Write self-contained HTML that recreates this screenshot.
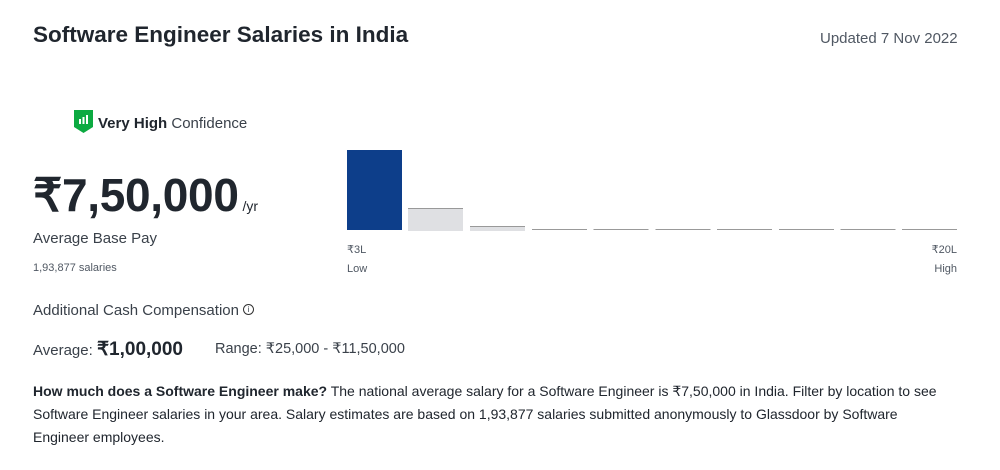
<!DOCTYPE html>
<html><head><meta charset="utf-8"><style>
body{margin:0;width:1000px;height:470px;background:#fff;font-family:"Liberation Sans",sans-serif;color:#20262e;position:relative;overflow:hidden}
.a{position:absolute;white-space:nowrap}
.bar{position:absolute;width:55px}
</style></head><body>
<div class="a" style="left:33px;top:22px;font-size:22.5px;font-weight:bold">Software Engineer Salaries in India</div>
<div class="a" style="left:820px;top:30px;font-size:15px;color:#505863">Updated 7 Nov 2022</div>
<svg class="a" style="left:74px;top:110px" width="19" height="23" viewBox="0 0 19 23"><path d="M0 0H19V17L9.5 23L0 17Z" fill="#0caa41"/><rect x="5" y="9" width="2" height="5" fill="#fff"/><rect x="8.5" y="7" width="2" height="7" fill="#fff"/><rect x="12" y="5" width="2" height="9" fill="#fff"/></svg>
<div class="a" style="left:98px;top:115px;font-size:15px"><b>Very High</b> <span style="color:#3a414a">Confidence</span></div>
<div class="a" style="left:33px;top:168px;font-size:46px;font-weight:bold;letter-spacing:-0.3px">₹7,50,000<span style="font-size:14px;font-weight:normal;letter-spacing:0"> /yr</span></div>
<div class="a" style="left:33px;top:230px;font-size:15px;color:#3a414a">Average Base Pay</div>
<div class="a" style="left:33px;top:262px;font-size:11px;color:#505863">1,93,877 salaries</div>
<div class="bar" style="left:347px;top:150px;height:80px;background:#0d3e8a"></div>
<div class="bar" style="left:408px;top:208px;height:22px;background:#dfe0e3;border-top:1px solid #999"></div>
<div class="bar" style="left:470px;top:226px;height:4px;background:#dfe0e3;border-top:1px solid #999"></div>
<div style="position:absolute;top:229px;left:532px;width:425px;height:1px;background:repeating-linear-gradient(90deg,#999 0 55px,transparent 55px 61.7px)"></div>
<div class="a" style="left:347px;top:243px;font-size:11px;color:#505863">₹3L</div>
<div class="a" style="left:347px;top:263px;font-size:11px;color:#505863">Low</div>
<div class="a" style="right:43px;top:243px;font-size:11px;color:#505863">₹20L</div>
<div class="a" style="right:43px;top:263px;font-size:11px;color:#505863">High</div>
<div class="a" style="left:33px;top:302px;font-size:15px;color:#3a414a">Additional Cash Compensation <span style="display:inline-block;width:9px;height:9px;border:1px solid #333;border-radius:50%;font-size:8px;text-align:center;line-height:9px;vertical-align:3px">i</span></div>
<div class="a" style="left:33px;top:338px;font-size:15px;color:#3a414a">Average: <b style="font-size:19px;color:#20262e">₹1,00,000</b></div>
<div class="a" style="left:215px;top:341px;font-size:14.5px;color:#3a414a">Range: ₹25,000 - ₹11,50,000</div>
<div class="a" style="left:33px;top:380px;font-size:14px;line-height:23px;color:#20262e"><b>How much does a Software Engineer make?</b> The national average salary for a Software Engineer is ₹7,50,000 in India. Filter by location to see<br>Software Engineer salaries in your area. Salary estimates are based on 1,93,877 salaries submitted anonymously to Glassdoor by Software<br>Engineer employees.</div>
</body></html>
